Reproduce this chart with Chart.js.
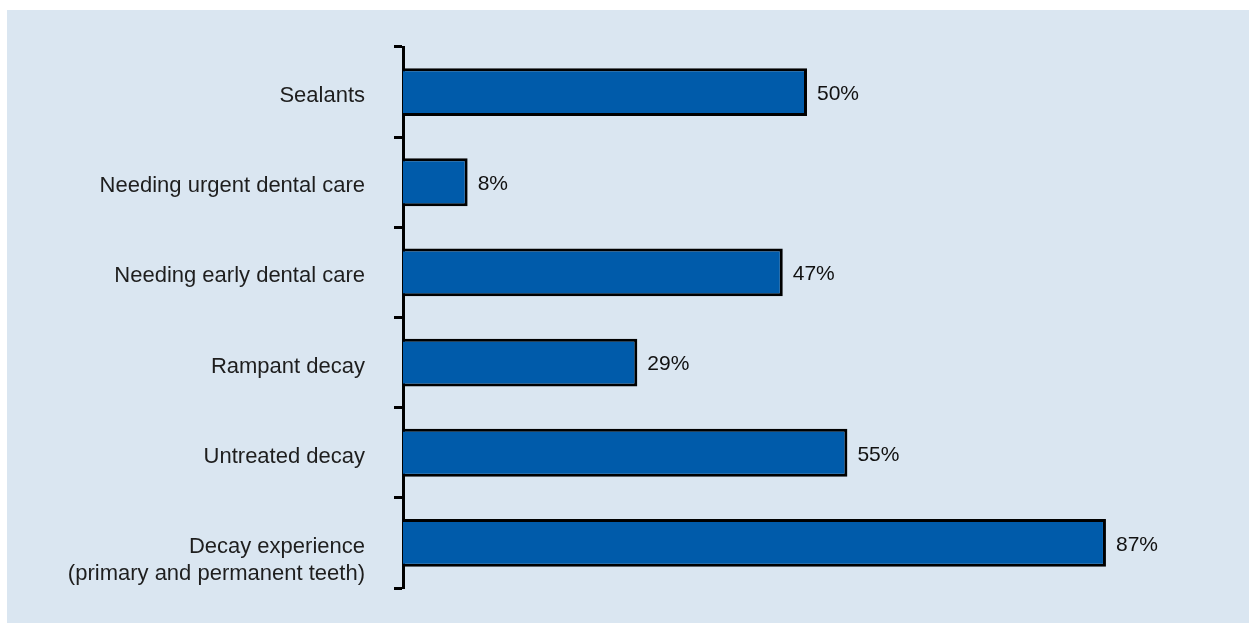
<!DOCTYPE html>
<html>
<head>
<meta charset="utf-8">
<script src="https://cdn.jsdelivr.net/npm/chart.js@4.4.1/dist/chart.umd.min.js"></script>
<style>
    html, body { margin: 0; padding: 0; background: #ffffff; }
    #painel {
        position: absolute;
        left: 7px;
        top: 10px;
        width: 1242px;
        height: 613px;
        background: #dae6f1;
    }
</style>
</head>
<body>
<div id="painel"><canvas id="graf"></canvas></div>
<script>
// dados do grafico
const categorias = [
    'Sealants',
    'Needing urgent dental care',
    'Needing early dental care',
    'Rampant decay',
    'Untreated decay',
    ['', 'Decay experience', '(primary and permanent teeth)']
];
const percentuais = [50, 8, 47, 29, 55, 87];
const rotulosValor = ['50%', '8%', '47%', '29%', '55%', '87%'];

const fonte = '"Liberation Sans", Arial, sans-serif';

// escreve o valor no fim de cada barra
const rotulosPlugin = {
    id: 'rotulos',
    afterDatasetsDraw(chart) {
        const ctx = chart.ctx;
        const meta = chart.getDatasetMeta(0);
        ctx.save();
        ctx.font = '21px ' + fonte;
        ctx.fillStyle = '#111111';
        ctx.textAlign = 'left';
        ctx.textBaseline = 'middle';
        meta.data.forEach((barra, i) => {
            ctx.fillText(rotulosValor[i], barra.x + 10, barra.y + 2);
        });
        ctx.restore();
    }
};

new Chart(document.getElementById('graf'), {
    type: 'bar',
    data: {
        labels: categorias,
        datasets: [{
            data: percentuais,
            backgroundColor: '#005baa',
            borderColor: '#000000',
            borderWidth: 3,
            barPercentage: 0.53,
            categoryPercentage: 1
        }]
    },
    options: {
        indexAxis: 'y',
        responsive: true,
        maintainAspectRatio: false,
        animation: false,
        layout: { padding: { left: 0, right: 38, top: 37, bottom: 35 } },
        plugins: {
            legend: { display: false },
            tooltip: { enabled: false }
        },
        scales: {
            x: { display: false, min: 0, max: 100 },
            y: {
                afterFit(scale) {
                    scale.width = 396;
                    scale.paddingTop = 0;
                    scale.paddingBottom = 0;
                },
                border: { display: true, color: '#000000', width: 3 },
                grid: {
                    offset: true,
                    drawOnChartArea: false,
                    drawTicks: true,
                    tickLength: 9,
                    tickWidth: 3,
                    tickColor: '#000000'
                },
                ticks: {
                    padding: 29,
                    labelOffset: 4,
                    color: '#1e1e1e',
                    font: { family: fonte, size: 22, lineHeight: 1.23 }
                }
            }
        }
    },
    plugins: [rotulosPlugin]
});
</script>
</body>
</html>
